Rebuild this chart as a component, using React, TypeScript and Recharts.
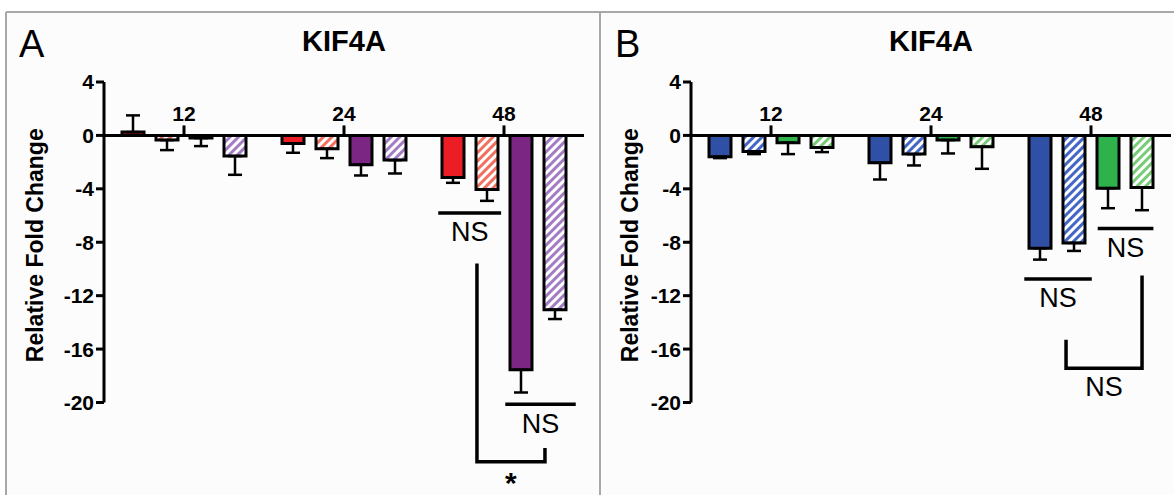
import React from "react";
import { BarChart, Bar, LineChart, Line, LabelList, XAxis, YAxis, ErrorBar, ReferenceLine } from "recharts";

const FONT = "'Liberation Sans', Arial, Helvetica, sans-serif";

// hours after treatment
const timepoints = ["12", "24", "48"];
const yTicks = [4, 0, -4, -8, -12, -16, -20];

// panel A
const redSolid = [0.25, -0.6, -3.15];
const redSolidErr = [1.25, 0.7, 0.4];
const redHatch = [-0.35, -1.0, -4.05];
const redHatchErr = [0.75, 0.7, 0.85];
const purpleSolid = [-0.2, -2.2, -17.55];
const purpleSolidErr = [0.6, 0.8, 1.7];
const purpleHatch = [-1.55, -1.85, -13.05];
const purpleHatchErr = [1.4, 1.0, 0.7];

// panel B
const blueSolid = [-1.6, -2.05, -8.45];
const blueSolidErr = [0.1, 1.25, 0.85];
const blueHatch = [-1.2, -1.4, -8.05];
const blueHatchErr = [0.2, 0.85, 0.6];
const greenSolid = [-0.55, -0.35, -3.95];
const greenSolidErr = [0.85, 1.0, 1.5];
const greenHatch = [-0.9, -0.85, -3.9];
const greenHatchErr = [0.35, 1.65, 1.7];

// significance marks, x in category units (0..3), y in fold change
const nsLinesA = [
  { x1: 2.1, x2: 2.471, y: -5.8, text: "NS" },
  { x1: 2.519, x2: 2.9375, y: -20.1, text: "NS" },
];
const bracketsA = [{ x1: 2.331, x2: 2.756, top1: -9.7, top2: -23.5, base: -24.4, text: "*" }];
const nsLinesB = [
  { x1: 2.553, x2: 2.879, y: -6.95, text: "NS" },
  { x1: 2.094, x2: 2.494, y: -10.73, text: "NS" },
];
const bracketsB = [{ x1: 2.344, x2: 2.819, top1: -15.4, top2: -10.6, base: -17.4, text: "NS" }];

type Series = { key: string; values: number[]; errs: number[]; fill: string };

const seriesA: Series[] = [
  { key: "redSolid", values: redSolid, errs: redSolidErr, fill: "#ec1d25" },
  { key: "redHatch", values: redHatch, errs: redHatchErr, fill: "url(#hatch-red)" },
  { key: "purpleSolid", values: purpleSolid, errs: purpleSolidErr, fill: "#7a2682" },
  { key: "purpleHatch", values: purpleHatch, errs: purpleHatchErr, fill: "url(#hatch-purple)" },
];
const seriesB: Series[] = [
  { key: "blueSolid", values: blueSolid, errs: blueSolidErr, fill: "#3050a5" },
  { key: "blueHatch", values: blueHatch, errs: blueHatchErr, fill: "url(#hatch-blue)" },
  { key: "greenSolid", values: greenSolid, errs: greenSolidErr, fill: "#2fb14b" },
  { key: "greenHatch", values: greenHatch, errs: greenHatchErr, fill: "url(#hatch-green)" },
];

const hatches = [
  { id: "hatch-red", color: "#f2705f" },
  { id: "hatch-purple", color: "#a47cc4" },
  { id: "hatch-blue", color: "#4466c4" },
  { id: "hatch-green", color: "#78cc78" },
];

const PX_PER_UNIT = 13.375;

function buildRows(series: Series[]) {
  return timepoints.map((t, i) => {
    const row: any = { time: t };
    series.forEach((s) => {
      const v = s.values[i];
      const e = s.errs[i];
      row[s.key] = v;
      // one-sided error bars, pointing away from zero
      row[s.key + "Err"] = v < 0 ? [e, 0] : [0, e];
    });
    return row;
  });
}

// polylines for the NS bars and the brackets; the label sits on the middle point
function buildMarks(nsLines: typeof nsLinesA, brackets: typeof bracketsA) {
  const marks: { pts: any[]; text: string }[] = [];
  nsLines.forEach((l) =>
    marks.push({
      text: l.text,
      pts: [
        { x: l.x1, y: l.y },
        { x: (l.x1 + l.x2) / 2, y: l.y, text: l.text },
        { x: l.x2, y: l.y },
      ],
    })
  );
  brackets.forEach((b) =>
    marks.push({
      text: b.text,
      pts: [
        { x: b.x1, y: b.top1 },
        { x: b.x1, y: b.base },
        { x: (b.x1 + b.x2) / 2, y: b.base, text: b.text },
        { x: b.x2, y: b.base },
        { x: b.x2, y: b.top2 },
      ],
    })
  );
  return marks;
}

const AxisTitle = (props: any) => {
  const { viewBox, tx } = props;
  const cy = viewBox ? viewBox.y + viewBox.height / 2 + 3 : 245;
  return (
    <text
      x={tx}
      y={cy}
      transform={`rotate(-90 ${tx} ${cy})`}
      textAnchor="middle"
      fill="#000"
      fontSize={23}
      fontWeight={700}
      fontFamily={FONT}
    >
      Relative Fold Change
    </text>
  );
};

type PanelProps = {
  series: Series[];
  width: number;
  axisWidth: number;
  titleX: number;
  nsLines: typeof nsLinesA;
  brackets: typeof bracketsA;
};

const Panel = ({ series, width, axisWidth, titleX, nsLines, brackets }: PanelProps) => {
  const rows = buildRows(series);
  const marks = buildMarks(nsLines, brackets);
  const rightMargin = width - axisWidth - 480;
  // overlay reaches further down (to -28) so the brackets below the axis fit
  const overlayHeight = 82 + 32 * PX_PER_UNIT;
  return (
    <div style={{ position: "relative", width, height: 495 }}>
      <div style={{ position: "absolute", left: 0, top: 0 }}>
        <BarChart
          width={width}
          height={495}
          data={rows}
          margin={{ top: 82, right: rightMargin, bottom: 92.5, left: 0 }}
          barSize={22}
          barGap={12}
        >
          <defs>
            {hatches.map((h) => (
              <pattern
                key={h.id}
                id={h.id}
                width="6"
                height="6"
                patternUnits="userSpaceOnUse"
                patternTransform="rotate(45)"
              >
                <rect width="6" height="6" fill="#fff" />
                <line x1="1.5" y1="0" x2="1.5" y2="6" stroke={h.color} strokeWidth="3" />
              </pattern>
            ))}
          </defs>
          <XAxis dataKey="time" hide />
          <YAxis
            domain={[-20, 4]}
            ticks={yTicks}
            interval={0}
            allowDataOverflow
            width={axisWidth}
            tickSize={8}
            axisLine={{ stroke: "#000", strokeWidth: 3 }}
            tickLine={{ stroke: "#000", strokeWidth: 3 }}
            tick={{ fill: "#000", fontSize: 21, fontWeight: 700, fontFamily: FONT }}
            label={<AxisTitle tx={titleX} />}
          />
          <ReferenceLine y={0} stroke="#000" strokeWidth={3} />
          {series.map((s) => (
            <Bar key={s.key} dataKey={s.key} fill={s.fill} stroke="#000" strokeWidth={3} isAnimationActive={false}>
              <ErrorBar
                dataKey={s.key + "Err"}
                direction="y"
                width={7}
                stroke="#000"
                strokeWidth={2.5}
                isAnimationActive={false}
              />
            </Bar>
          ))}
          {timepoints.map((t) => (
            <ReferenceLine
              key={"tick" + t}
              segment={[
                { x: t, y: 0 },
                { x: t, y: 0.75 },
              ]}
              stroke="#000"
              strokeWidth={3}
              label={{ value: t, position: "top", offset: 4, fill: "#000", fontSize: 21, fontWeight: 700, fontFamily: FONT }}
            />
          ))}
        </BarChart>
      </div>
      <div style={{ position: "absolute", left: 0, top: 0, pointerEvents: "none" }}>
        <LineChart
          width={width}
          height={overlayHeight}
          margin={{ top: 82, right: rightMargin, bottom: 0, left: axisWidth }}
        >
          <XAxis dataKey="x" type="number" domain={[0, 3]} hide />
          <YAxis dataKey="y" type="number" domain={[-28, 4]} width={0} hide />
          {marks.map((m, i) => (
            <Line
              key={"mark" + i}
              data={m.pts}
              dataKey="y"
              type="linear"
              stroke="#000"
              strokeWidth={3.5}
              strokeLinecap="square"
              dot={false}
              activeDot={false}
              isAnimationActive={false}
            >
              <LabelList
                dataKey="text"
                position="bottom"
                offset={m.text === "*" ? 10 : 9}
                fill="#000"
                fontSize={m.text === "*" ? 30 : 27}
                fontWeight={m.text === "*" ? 700 : 400}
                fontFamily={FONT}
              />
            </Line>
          ))}
        </LineChart>
      </div>
    </div>
  );
};

export default function App() {
  return (
    <div style={{ position: "absolute", left: 0, top: 0, width: 1174, height: 495, background: "#fff", overflow: "hidden" }}>
      <svg width={1174} height={495} style={{ position: "absolute", left: 0, top: 0 }}>
        <rect x={6} y={12} width={1168} height={483} fill="#fcfcfd" />
        <line x1={6} y1={12} x2={1174} y2={12} stroke="#a8a8a8" strokeWidth={2} />
        <line x1={6} y1={12} x2={6} y2={495} stroke="#a8a8a8" strokeWidth={2} />
        <line x1={600} y1={12} x2={600} y2={495} stroke="#a8a8a8" strokeWidth={2} />
        <text x={19} y={57} fontSize={38} fontFamily={FONT} fill="#000">A</text>
        <text x={615} y={57} fontSize={38} fontFamily={FONT} fill="#000">B</text>
        <text x={344} y={51} fontSize={29} fontWeight={700} textAnchor="middle" fontFamily={FONT} fill="#000">KIF4A</text>
        <text x={931} y={51} fontSize={29} fontWeight={700} textAnchor="middle" fontFamily={FONT} fill="#000">KIF4A</text>
      </svg>
      <div style={{ position: "absolute", left: 0, top: 0 }}>
        <Panel series={seriesA} width={600} axisWidth={104} titleX={43} nsLines={nsLinesA} brackets={bracketsA} />
      </div>
      <div style={{ position: "absolute", left: 600, top: 0 }}>
        <Panel series={seriesB} width={574} axisWidth={91} titleX={38} nsLines={nsLinesB} brackets={bracketsB} />
      </div>
    </div>
  );
}
